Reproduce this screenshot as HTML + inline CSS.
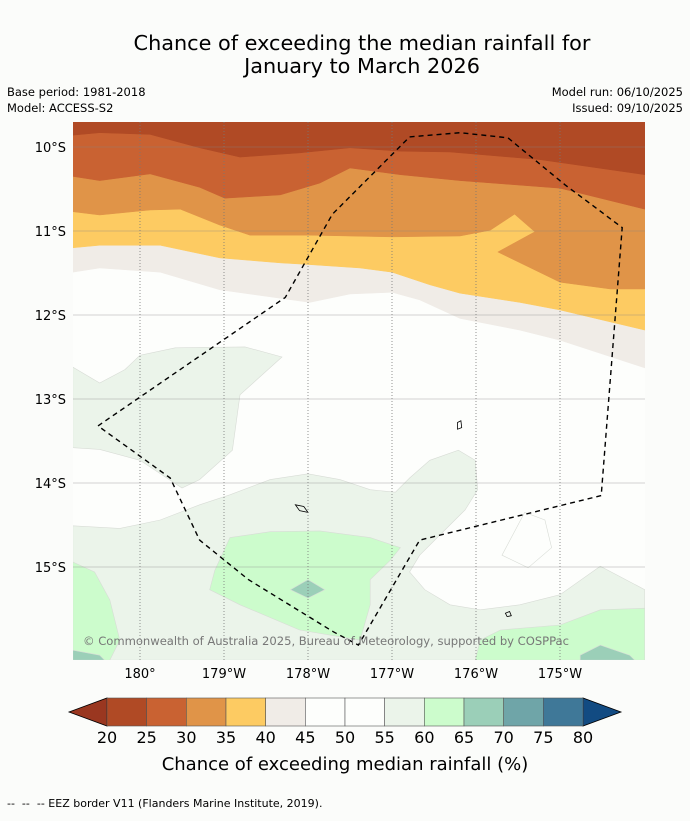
<!DOCTYPE html>
<html><head><meta charset="utf-8">
<style>
body{margin:0;background:#fbfcfa;font-family:"Liberation Sans","DejaVu Sans",sans-serif;}
svg text{font-family:"DejaVu Sans","Liberation Sans",sans-serif;}
</style></head>
<body>
<svg id="chart" width="690" height="816" viewBox="0 0 690 816" xmlns="http://www.w3.org/2000/svg">
<rect width="690" height="816" fill="#fbfcfa"/>
<text x="362" y="50" font-size="20.8" text-anchor="middle">Chance of exceeding the median rainfall for</text>
<text x="362" y="73" font-size="20.8" text-anchor="middle">January to March 2026</text>
<text x="7" y="96" font-size="11.5">Base period: 1981-2018</text>
<text x="7" y="112" font-size="11.5">Model: ACCESS-S2</text>
<text x="683" y="96" font-size="11.5" text-anchor="end">Model run: 06/10/2025</text>
<text x="683" y="112" font-size="11.5" text-anchor="end">Issued: 09/10/2025</text>
<defs><clipPath id="mapclip"><rect x="73" y="122" width="572" height="538"/></clipPath></defs>
<g id="map" clip-path="url(#mapclip)"></g>
<g id="axes"></g>
<g id="cbar"></g>
<text x="345" y="770" font-size="18" text-anchor="middle">Chance of exceeding median rainfall (%)</text>
<text x="7" y="807" font-size="11" xml:space="preserve">--  --  -- EEZ border V11 (Flanders Marine Institute, 2019).</text>
</svg>
<script>
// data (lon in degrees east where 180=180°, 181=179°W; lat in degrees south)
const lonTicks=[180,181,182,183,184,185];
const lonTickLabels=["180°","179°W","178°W","177°W","176°W","175°W"];
const latTicks=[10,11,12,13,14,15];
const latTickLabels=["10°S","11°S","12°S","13°S","14°S","15°S"];
const cbarLevels=[20,25,30,35,40,45,50,55,60,65,70,75,80];
const cbarColors=["#b04a25","#c96232","#e09448","#fdcb62","#f0ece7","#fdfefc","#fdfefc","#ebf4ea","#ccfccc","#9bcfb8","#6fa5a8","#3f7898"];
const b45="179.2,11.49 179.52,11.44 180.24,11.49 180.95,11.7 182.02,11.85 182.5,11.75 183,11.73 183.33,11.82 183.81,12.04 184.52,12.18 185,12.3 186.01,12.63";
const b40="179.2,11.2 179.52,11.17 180.24,11.17 180.95,11.32 181.67,11.38 182.02,11.4 182.62,11.44 183,11.49 183.45,11.64 183.81,11.74 184.52,11.85 185,11.94 186.01,12.18";
const b35="179.2,10.77 179.52,10.81 180.12,10.75 180.48,10.74 180.95,10.93 181.31,11.05 182.02,11.05 183,11.07 183.81,11.06 184.17,10.99 184.46,10.8 184.7,11.01 184.26,11.25 185,11.61 185.6,11.69 186.01,11.69";
const b30="179.2,10.35 179.52,10.4 180.12,10.32 180.71,10.48 181.01,10.61 181.67,10.57 182.14,10.43 182.5,10.25 183.1,10.33 183.81,10.4 185,10.49 186.01,10.74";
const b25="179.2,9.86 179.52,9.83 180.12,9.85 180.71,10.01 181.19,10.12 181.9,10.07 182.5,10.01 183.1,10.05 183.69,10.06 184.76,10.15 186.01,10.33";
const g55a="179.2,12.62 179.52,12.81 179.82,12.65 180,12.48 180.42,12.39 181.25,12.38 181.69,12.5 181.19,12.95 181.1,13.61 180.71,13.96 180.5,14.06 180,13.73 179.52,13.6 179.2,13.58";
const g55b="179.2,14.51 179.2,16.11 186.01,16.11 186.01,15.27 185.48,14.99 185,15.33 184.52,15.45 184.05,15.51 183.69,15.45 183.39,15.27 183.21,15.06 183.33,14.86 183.63,14.56 183.87,14.32 184.02,14.08 183.99,13.73 183.79,13.61 183.45,13.73 183.21,13.94 183.04,14.11 182.74,14.08 182.38,13.96 182,13.89 181.55,13.96 181.07,14.14 180.71,14.26 180.24,14.44 179.76,14.54";
const hole50="184.31,14.86 184.58,14.35 184.82,14.44 184.9,14.77 184.62,15.01";
const g60a="179.2,14.94 179.46,15.06 179.64,15.39 179.76,15.87 179.64,16.11 179.2,16.11";
const g60b="181.07,14.65 181.55,14.58 182.14,14.57 182.74,14.65 183.1,14.77 182.98,14.92 182.74,15.15 182.74,15.45 182.62,15.87 181.9,15.75 181.19,15.45 180.83,15.27 180.89,15.04";
const g60c="183.99,16.11 184.05,15.87 184.29,15.75 185,15.69 185.48,15.51 186.01,15.49 186.01,16.11";
const t65a="181.79,15.27 182,15.15 182.2,15.27 182,15.37";
const t65b="179.2,15.99 179.52,16.05 179.58,16.11 179.2,16.11";
const t65c="185.24,16.05 185.48,15.93 185.83,16.05 185.89,16.11 185.24,16.11";
const eez="179.5,13.32 181.73,11.79 182.29,10.8 183.21,9.88 183.81,9.83 184.38,9.89 185.06,10.45 185.74,10.96 185.49,14.15 183.33,14.68 182.6,15.93 182.3,15.77 181.29,15.15 180.71,14.68 180.36,13.94 179.5,13.32";
const islands=["183.78,13.28 183.82,13.26 183.83,13.34 183.78,13.36","181.85,14.26 181.95,14.28 182,14.35 181.9,14.33","184.35,15.55 184.4,15.53 184.42,15.58 184.37,15.59"];

const NS="http://www.w3.org/2000/svg";
function xS(lon){return 140+(lon-180)*84;}
function yS(lat){return 147+(lat-10)*84;}
function pts(s){return s.split(" ").map(p=>{const [a,b]=p.split(",").map(Number);return [xS(a),yS(b)];});}
function ptsStr(arr){return arr.map(p=>p[0].toFixed(1)+","+p[1].toFixed(1)).join(" ");}
const map=document.getElementById("map"),axes=document.getElementById("axes"),cb=document.getElementById("cbar");
function mk(tag,attrs,parent){const e=document.createElementNS(NS,tag);for(const k in attrs)e.setAttribute(k,attrs[k]);parent.appendChild(e);return e;}
let e=mk("rect",{x:73,y:122,width:572,height:538,fill:"#fdfefc"},map);


const topBands=[[b45,"#f0ece7","band-40-45"],[b40,"#fdcb62","band-35-40"],[b35,"#e09448","band-30-35"],[b30,"#c96232","band-25-30"],[b25,"#b04a25","band-20-25"]];
topBands.forEach(([b,c,n])=>{
  const p=[[xS(179.2)-2,yS(9.7)-2]].concat(pts(b));p.push([xS(186.01)+2,yS(9.7)-2]);
  const el=mk("polygon",{points:ptsStr(p),fill:c,stroke:c,"stroke-width":0.5},map);
  
  
});
const polys=[[g55a,"#ebf4ea","band-55-60-west"],[g55b,"#ebf4ea","band-55-60-south"],[hole50,"#fdfefc","band-50-55-hole"],[g60a,"#ccfccc","band-60-65-west"],[g60b,"#ccfccc","band-60-65-centre"],[g60c,"#ccfccc","band-60-65-east"],[t65a,"#9bcfb8","band-65-70-centre"],[t65b,"#9bcfb8","band-65-70-west"],[t65c,"#9bcfb8","band-65-70-east"]];
polys.forEach(([s,c,n])=>{
  const el=mk("polygon",{points:ptsStr(pts(s)),fill:c,stroke:"#d8dcd6","stroke-width":0.6},map);
  
  
});
islands.forEach((s,i)=>{
  const el=mk("polygon",{points:ptsStr(pts(s)),fill:"none",stroke:"#000","stroke-width":0.8},map);
  
  
});
lonTicks.forEach((l,i)=>{
  const x=xS(l);
  let g=mk("line",{x1:x,y1:122,x2:x,y2:660,stroke:"#777","stroke-width":0.8,"stroke-dasharray":"1,2"},map);
  
  
  let t=mk("text",{x:x,y:678,"font-size":13,"text-anchor":"middle"},axes);t.textContent=lonTickLabels[i];
  
  
});
latTicks.forEach((l,i)=>{
  const y=yS(l);
  let g=mk("line",{x1:73,y1:y,x2:645,y2:y,stroke:"#888","stroke-width":0.6,"stroke-opacity":0.7},map);
  
  
  let t=mk("text",{x:66,y:y+5,"font-size":13,"text-anchor":"end"},axes);t.textContent=latTickLabels[i];
  
  
});
e=mk("polyline",{points:ptsStr(pts(eez)),fill:"none",stroke:"#000","stroke-width":1.4,"stroke-dasharray":"5,4"},map);


e=mk("text",{x:83,y:645,"font-size":11.6,fill:"#777",textLength:486},map);e.textContent="© Commonwealth of Australia 2025, Bureau of Meteorology, supported by COSPPac";


// colorbar
const cx0=107,cx1=583,cy0=698,cy1=726,n=cbarColors.length,w=(cx1-cx0)/n;
e=mk("polygon",{points:`${cx0},${cy0} ${cx0},${cy1} 69,${(cy0+cy1)/2}`,fill:"#9a3720",stroke:"#000","stroke-width":0.8},cb);


e=mk("polygon",{points:`${cx1},${cy0} ${cx1},${cy1} 621,${(cy0+cy1)/2}`,fill:"#124b82",stroke:"#000","stroke-width":0.8},cb);


cbarColors.forEach((c,i)=>{
  const r=mk("rect",{x:cx0+i*w,y:cy0,width:w,height:cy1-cy0,fill:c,stroke:"#555","stroke-width":0.6},cb);
  
  
});
cbarLevels.forEach((v,i)=>{
  const t=mk("text",{x:cx0+i*w,y:743,"font-size":16,"text-anchor":"middle"},cb);t.textContent=v;
  
  
});
</script>
</body></html>
